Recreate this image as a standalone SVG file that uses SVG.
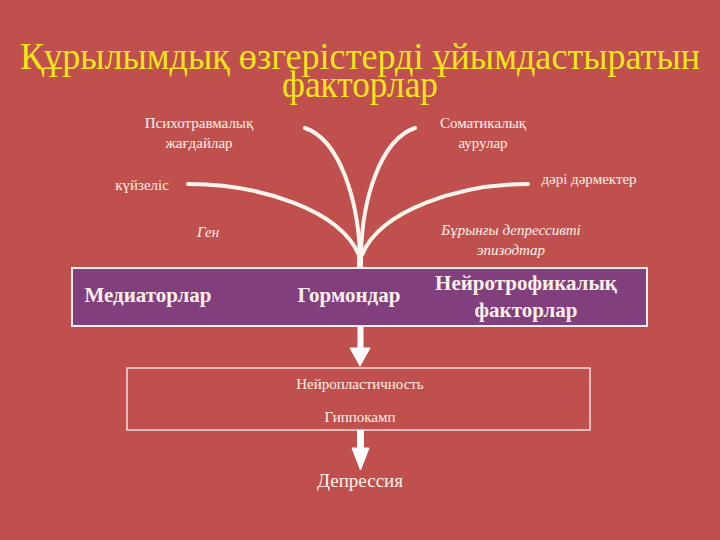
<svg xmlns="http://www.w3.org/2000/svg" width="720" height="540" viewBox="0 0 720 540">
<style>
.t{font-family:'Liberation Serif','Times New Roman','DejaVu Serif',serif;fill:#fff0e8;text-anchor:middle}
.h{font-family:'Liberation Serif','Times New Roman','DejaVu Serif',serif;font-size:38px;fill:#F2E51A;text-anchor:middle}
.s{font-size:15px}
.b{font-size:21px;font-weight:bold}
.i{font-style:italic;font-size:15px}
.c{fill:none;stroke:#fff4ec;stroke-width:4;stroke-linecap:round}
.ah{fill:#fff;stroke:#fff;stroke-width:1}
</style>
<rect width="720" height="540" fill="#C0504D"/>
<g id="title">
<text class="h" x="360" y="69" textLength="680" lengthAdjust="spacingAndGlyphs">Құрылымдық өзгерістерді ұйымдастыратын</text>
<text class="h" x="360" y="97" textLength="156" lengthAdjust="spacingAndGlyphs">факторлар</text>
</g>
<g id="connectors">
<path class="c" d="M305,128 C340,140 358,200 360,255"/>
<path class="c" d="M415,128 C380,140 362,200 361,255"/>
<path class="c" d="M188,184 C260,184 340,210 359,255"/>
<path class="c" d="M528,184 C460,184 380,210 362,255"/>
<rect x="357" y="250" width="6" height="18" fill="#fff4ec"/>
<rect x="357.5" y="326" width="6" height="22" fill="#fff"/>
<path class="ah" d="M350,348 L370,348 L360,366 Z"/>
<rect x="357" y="430" width="7" height="20" fill="#fff"/>
<path class="ah" d="M352,448 L369,448 L360.5,470 Z"/>
</g>
<g id="psycho"><text class="t s" x="199" y="128">Психотравмалық</text><text class="t s" x="199" y="148">жағдайлар</text></g>
<g id="somatic"><text class="t s" x="483" y="128">Соматикалық</text><text class="t s" x="483" y="148">аурулар</text></g>
<g id="stress"><text class="t s" x="142" y="190">күйзеліс</text></g>
<g id="drugs"><text class="t s" x="589" y="184">дәрі дәрмектер</text></g>
<g id="gen"><text class="t i" x="208" y="237">Ген</text></g>
<g id="episodes"><text class="t i" x="511" y="235">Бұрынғы депрессивті</text><text class="t i" x="511" y="255">эпизодтар</text></g>
<g id="mainbox">
<rect x="72" y="268" width="575" height="58" fill="#823F7E" stroke="#fff0f0" stroke-width="2"/>
<text class="t b" x="148" y="302">Медиаторлар</text>
<text class="t b" x="349" y="302">Гормондар</text>
<text class="t b" x="526" y="290">Нейротрофикалық</text>
<text class="t b" x="526" y="317">факторлар</text>
</g>
<g id="plastbox">
<rect x="127" y="368" width="463" height="62" fill="none" stroke="#fff" stroke-width="1.2"/>
<text class="t s" x="360" y="389">Нейропластичность</text>
<text class="t s" x="360" y="422">Гиппокамп</text>
</g>
<g id="depression"><text class="t" x="360" y="487" font-size="19">Депрессия</text></g>
</svg>
